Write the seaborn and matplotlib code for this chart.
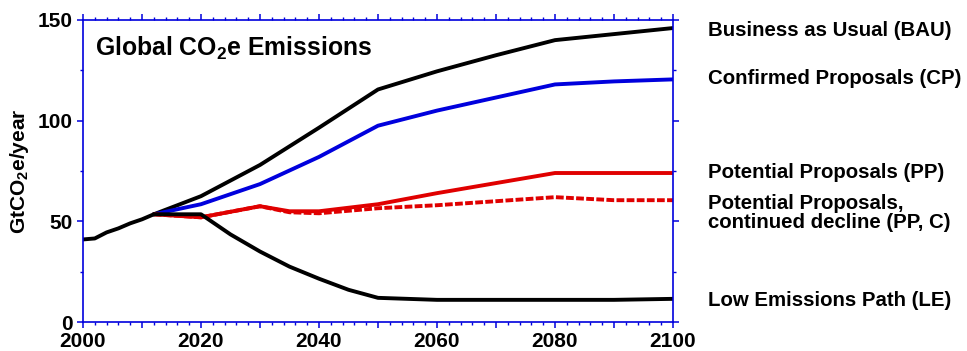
import numpy as np
import pandas as pd
import matplotlib
matplotlib.use("Agg")
import matplotlib.pyplot as plt
import seaborn as sns
from matplotlib.ticker import MultipleLocator, FuncFormatter

# ---- data ----
hist_years = [2000, 2002, 2004, 2006, 2008, 2010, 2012]
hist_vals = [41.0, 41.5, 44.5, 46.5, 49.0, 51.0, 53.5]

bau_years = [2012, 2020, 2030, 2040, 2050, 2060, 2070, 2080, 2090, 2100]
bau_vals = [53.5, 62.5, 78.0, 96.5, 115.5, 124.5, 132.5, 140.0, 143.0, 146.0]

cp_years = [2012, 2020, 2030, 2040, 2050, 2060, 2070, 2080, 2090, 2100]
cp_vals = [53.5, 58.5, 68.5, 82.0, 97.5, 105.0, 111.5, 118.0, 119.5, 120.5]

pp_years = [2012, 2020, 2030, 2035, 2040, 2050, 2060, 2070, 2080, 2090, 2100]
pp_vals = [53.5, 52.0, 57.5, 55.0, 55.0, 58.5, 64.0, 69.0, 74.0, 74.0, 74.0]

ppc_years = [2012, 2020, 2030, 2035, 2040, 2050, 2060, 2070, 2080, 2090, 2100]
ppc_vals = [53.5, 52.0, 57.5, 54.5, 54.0, 56.5, 58.0, 60.0, 62.0, 60.5, 60.5]

le_years = [2012, 2020, 2025, 2030, 2035, 2040, 2045, 2050, 2060, 2070, 2080, 2090, 2100]
le_vals = [53.5, 53.5, 43.5, 35.0, 27.5, 21.5, 16.0, 12.0, 11.0, 11.0, 11.0, 11.0, 11.5]

right_labels = ["Business as Usual (BAU)", "Confirmed Proposals (CP)",
                "Potential Proposals (PP)", "Potential Proposals,\ncontinued decline (PP, C)",
                "Low Emissions Path (LE)"]

# ---- style ----
sns.set_style("white")
plt.rcParams['font.family'] = ['Liberation Sans', 'DejaVu Sans']
plt.rcParams['text.color'] = 'black'
plt.rcParams['axes.labelcolor'] = 'black'
plt.rcParams['mathtext.fontset'] = 'custom'
plt.rcParams['mathtext.rm'] = 'Liberation Sans:bold'
plt.rcParams['mathtext.bf'] = 'Liberation Sans:bold'

fig = plt.figure(figsize=(9.67, 3.51), dpi=100)
ax = fig.add_axes([83/967, 1-322/351, (673-83)/967, (322-20)/351])

blue = "#0000dd"
red = "#e00000"
lw = 2.8

sns.lineplot(x=bau_years, y=bau_vals, ax=ax, color="black", lw=lw)
sns.lineplot(x=cp_years, y=cp_vals, ax=ax, color=blue, lw=lw)
sns.lineplot(x=ppc_years, y=ppc_vals, ax=ax, color=red, lw=lw, dashes=False,
             linestyle=(0, (2.0, 0.6)))
sns.lineplot(x=pp_years, y=pp_vals, ax=ax, color=red, lw=lw)
sns.lineplot(x=le_years, y=le_vals, ax=ax, color="black", lw=lw)
sns.lineplot(x=hist_years, y=hist_vals, ax=ax, color="black", lw=lw)

ax.set_xlim(2000, 2100)
ax.set_ylim(0, 150)

for s in ax.spines.values():
    s.set_color(blue)
    s.set_linewidth(1.2)
    s.set_visible(True)

ax.xaxis.set_major_locator(MultipleLocator(10))
ax.xaxis.set_minor_locator(MultipleLocator(2))
ax.xaxis.set_major_formatter(FuncFormatter(lambda v, p: f"{int(v)}" if int(round(v)) % 20 == 0 else ""))
ax.yaxis.set_major_locator(MultipleLocator(50))
ax.yaxis.set_minor_locator(MultipleLocator(25))

ax.tick_params(axis='both', which='major', direction='out', color=blue, length=4.5, width=1.1,
               labelsize=15, labelcolor='black',
               top=True, right=True, bottom=True, left=True, labelright=False, labeltop=False)
ax.tick_params(axis='x', which='major', pad=3)
ax.tick_params(axis='y', which='major', pad=3)
ax.tick_params(axis='both', which='minor', direction='out', color=blue, length=2.5, width=1.0,
               top=True, right=True, bottom=True, left=True)
for lab in ax.get_xticklabels() + ax.get_yticklabels():
    lab.set_fontweight('bold')

ax.set_ylabel(r"GtCO$_{2}$e/year", fontsize=15, fontweight='bold', labelpad=5)
ax.set_xlabel("")

ax.text(0.02, 0.95, r"Global CO$_{2}$e Emissions", transform=ax.transAxes,
        fontsize=17.8, fontweight='bold', va='top', ha='left')

label_y_px = [30, 78, 172, 213, 300]
for txt, ypx in zip(right_labels, label_y_px):
    fig.text(708/967, 1 - ypx/351, txt, fontsize=14.7, fontweight='bold',
             va='center', ha='left', linespacing=1.0)

fig.savefig("out.png", dpi=100)
